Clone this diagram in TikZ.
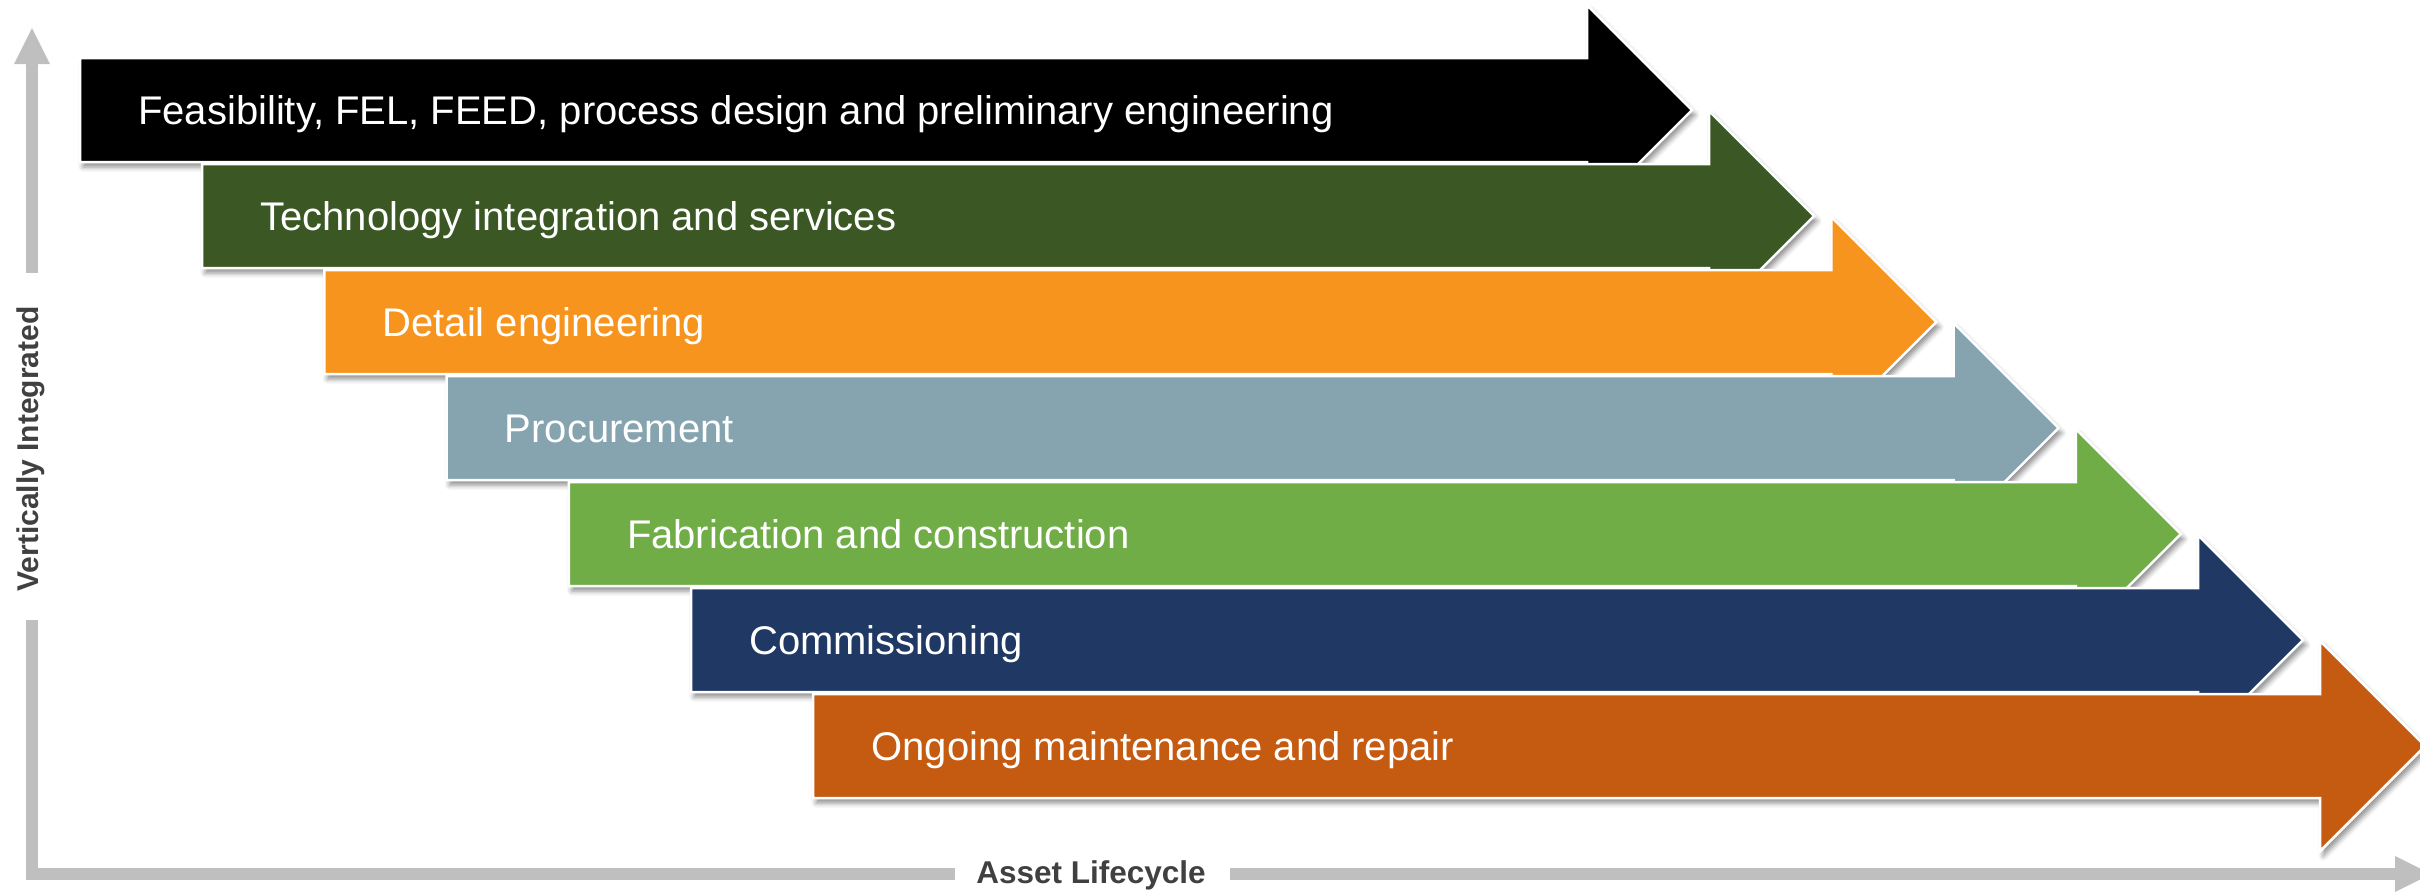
\documentclass[tikz,border=0pt]{standalone}
\usepackage{fontspec}
\setmainfont{Liberation Sans}
\usetikzlibrary{shadows.blur}
\definecolor{axisgray}{HTML}{BFBFBF}
\definecolor{labelgray}{HTML}{404040}
\definecolor{ca}{HTML}{000000}
\definecolor{cb}{HTML}{3A5724}
\definecolor{cc}{HTML}{F7941E}
\definecolor{cd}{HTML}{86A4AF}
\definecolor{ce}{HTML}{70AD47}
\definecolor{cf}{HTML}{203864}
\definecolor{cg}{HTML}{C55A11}
\begin{document}
\begin{tikzpicture}[x=1pt,y=-1pt,
  phase/.style={draw=white, line width=2.5pt, line join=miter,
    blur shadow={shadow xshift=3pt, shadow yshift=-5pt, shadow blur radius=5pt, shadow opacity=45}},
  phasetext/.style={anchor=base west, text=white, inner sep=0pt, font=\fontsize{40}{47}\selectfont},
  axisline/.style={draw=axisgray, line width=12.5pt},
  axishead/.style={fill=axisgray, draw=none},
  axislabel/.style={inner sep=0pt, text=labelgray, font=\bfseries\fontsize{30}{36}\selectfont}]
\useasboundingbox (0,0) rectangle (2420,892);
\clip (0,0) rectangle (2420,892);
% axes
\coordinate (vtop) at (32,28);
\coordinate (vbase) at (32,64);
\coordinate (vgapA) at (32,273);
\coordinate (vgapB) at (32,620);
\coordinate (corner) at (32,874);
\coordinate (hgapA) at (955,874);
\coordinate (hgapB) at (1230,874);
\coordinate (hbase) at (2395,874);
\coordinate (htip) at (2431,874);
\draw[axisline] (vbase) -- (vgapA);
\draw[axisline, line join=miter] (vgapB) -- (corner) -- (hgapA);
\draw[axisline] (hgapB) -- (hbase);
\fill[axishead] (14,64) -- (vtop) -- (50,64) -- cycle;
\fill[axishead] (2395,856) -- (htip) -- (2395,892) -- cycle;
\node[axislabel, anchor=base, rotate=90] (vlabel) at (38,449) {Vertically Integrated};
\node[axislabel, anchor=base, font=\bfseries\fontsize{31.5}{38}\selectfont] (hlabel) at (1091,883) {Asset Lifecycle};
% phases
\foreach \k/\col/\txt in {0/ca/{Feasibility, FEL, FEED, process design and preliminary engineering},
  1/cb/{Technology integration and services},
  2/cc/{Detail engineering},
  3/cd/{Procurement},
  4/ce/{Fabrication and construction},
  5/cf/{Commissioning},
  6/cg/{Ongoing maintenance and repair}}{
  \pgfmathsetmacro{\L}{80+122.2*\k}
  \pgfmathsetmacro{\T}{58+106*\k}
  \pgfmathsetmacro{\B}{\T+104}
  \pgfmathsetmacro{\C}{\T+52}
  \pgfmathsetmacro{\N}{1587+122.2*\k}
  \path[phase, fill=\col] (\L,\T) -- (\N,\T) -- (\N,\C-105) -- (\N+105,\C) -- (\N,\C+105) -- (\N,\B) -- (\L,\B) -- cycle;
  \node[phasetext] (p\k) at (\L+58,\C+14) {\txt};
}
\end{tikzpicture}
\end{document}
